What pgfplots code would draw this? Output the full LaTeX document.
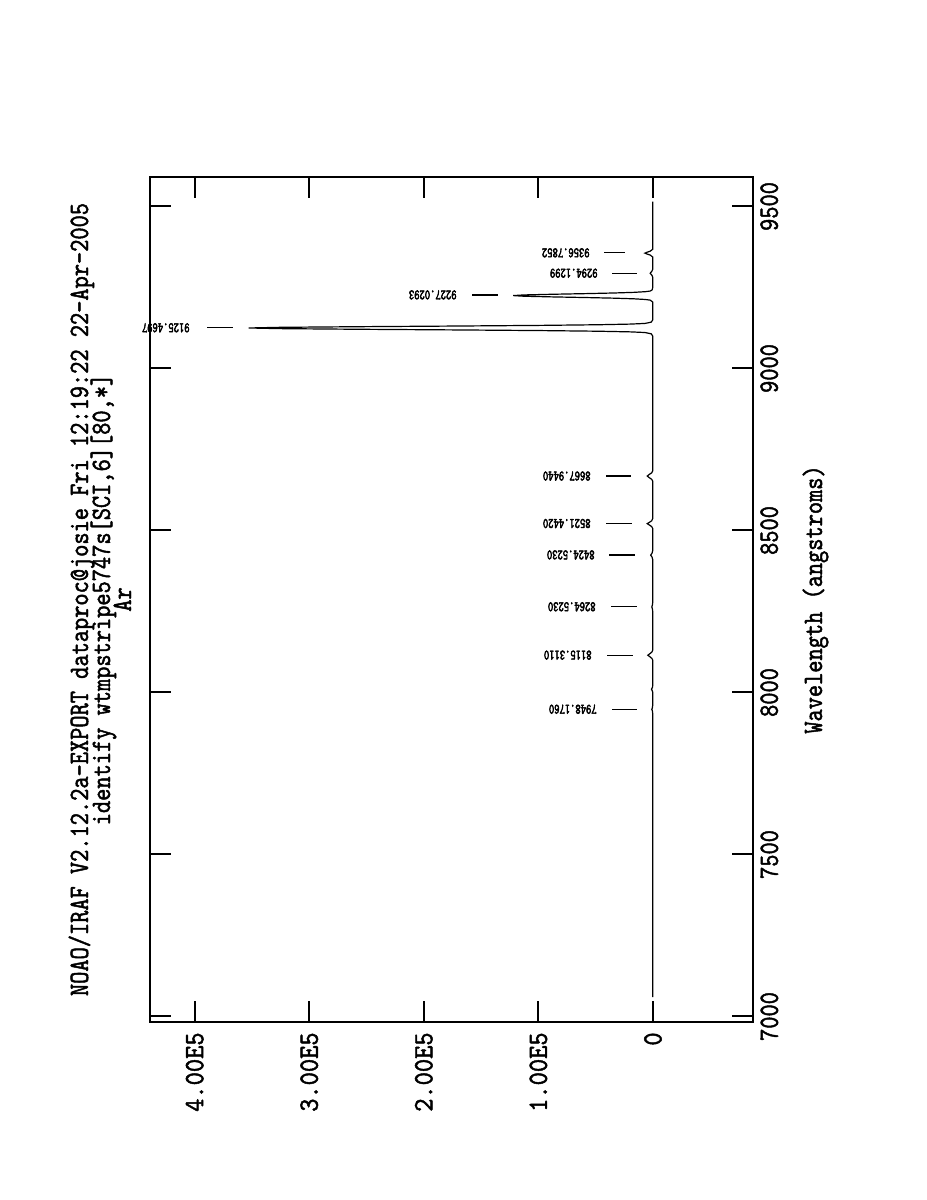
\documentclass[border=0pt]{standalone}
\usepackage{fontspec}
\usepackage{pgfplots}
\usepackage{pgfplotstable}
\pgfplotsset{compat=1.18}
\newfontfamily\iraf{lmmono10-regular.otf}[FakeStretch=0.83,FakeBold=1.6]
\newfontfamily\irafw{lmmono10-regular.otf}[FakeStretch=0.9,FakeBold=1.6]
\newfontfamily\irafs{lmmono10-regular.otf}[FakeStretch=0.7,FakeBold=3]
\newcommand\bigf{\iraf\fontsize{14}{16}\selectfont}
\newcommand\tickf{\irafw\fontsize{14}{16}\selectfont}
\newcommand\smallf{\irafs\fontsize{7.2}{8}\selectfont}

\pgfplotstableread{
w I
7060 200
7500 200
7900 200
7935 200
7943 500
7948 1000
7953 500
7961 200
8000 200
8004 400
8010 1300
8016 400
8022 200
8100 200
8105 900
8110 2600
8115 4500
8120 2600
8125 900
8131 200
8250 200
8258 500
8264 1000
8270 500
8278 200
8410 200
8418 800
8424 2000
8430 800
8438 200
8506 200
8512 1100
8517 3200
8521 5000
8525 3200
8530 1100
8537 200
8652 200
8658 1100
8663 3200
8668 5000
8673 3200
8678 1100
8684 200
9100 200
9107 1500
9111 7000
9113 19800
9115 47800
9117 98100
9119 171800
9121 256300
9123 325900
9125 353000
9127 325900
9129 256300
9131 171800
9133 98100
9135 47800
9137 19800
9139 7000
9143 1500
9150 200
9205 200
9211 2400
9213 6800
9215 16500
9217 33900
9219 59400
9221 88600
9223 112600
9225 122000
9227 112600
9229 88600
9231 59400
9233 33900
9235 16500
9237 6800
9239 2400
9243 600
9250 200
9282 200
9288 1000
9294 2400
9300 1000
9306 200
9344 200
9350 2400
9353 5000
9356 7000
9359 5000
9362 2400
9368 200
9515 200
}\spectrum

\begin{document}
\begin{tikzpicture}
\begin{axis}[
  scale only axis,
  width=301.5pt, height=422.5pt,
  x dir=reverse,
  xmin=-87300, xmax=439000,
  ymin=6983, ymax=9591,
  axis line style={line width=1pt},
  tick align=inside,
  major tick length=10.5pt,
  every tick/.style={black, line width=1pt},
  xtick={0,100000,200000,300000,400000},
  xticklabels={0,1.00E5,2.00E5,3.00E5,4.00E5},
  ytick={7000,7500,8000,8500,9000,9500},
  yticklabels={7000,7500,8000,8500,9000,9500},
  scaled x ticks=false,
  xticklabel style={font=\tickf, rotate=90, anchor=east, inner sep=0pt},
  xticklabel shift=5pt,
  yticklabel pos=right,
  yticklabel style={font=\bigf, rotate=90, anchor=north, inner sep=0pt},
  yticklabel shift=3.5pt,
  xtick pos=both, ytick pos=both,
  clip=false,
]
\addplot[black, line width=0.6pt] table[x=I, y=w] {\spectrum};
% line identifications
\addplot[black, line width=0.6pt] coordinates {(13965,7948.176) (35785,7948.176)};
\addplot[black, line width=0.6pt] coordinates {(17456,8115.311) (40149,8115.311)};
\addplot[black, line width=0.6pt] coordinates {(13965,8264.523) (36658,8264.523)};
\addplot[black, line width=0.6pt] coordinates {(15710,8424.523) (38403,8424.523)};
\addplot[black, line width=0.6pt] coordinates {(18329,8521.442) (41022,8521.442)};
\addplot[black, line width=0.6pt] coordinates {(19202,8667.944) (41022,8667.944)};
\addplot[black, line width=0.6pt] coordinates {(366576,9125.4697) (389269,9125.4697)};
\addplot[black, line width=0.6pt] coordinates {(135284,9227.0293) (157977,9227.0293)};
\addplot[black, line width=0.6pt] coordinates {(13965,9294.1299) (35785,9294.1299)};
\addplot[black, line width=0.6pt] coordinates {(24438,9356.7852) (42767,9356.7852)};
\node[font=\smallf, rotate=180, anchor=west, inner sep=0pt] at (axis cs:48877,7948.176) {7948.1760};
\node[font=\smallf, rotate=180, anchor=west, inner sep=0pt] at (axis cs:53241,8115.311) {8115.3110};
\node[font=\smallf, rotate=180, anchor=west, inner sep=0pt] at (axis cs:49750,8264.523) {8264.5230};
\node[font=\smallf, rotate=180, anchor=west, inner sep=0pt] at (axis cs:50622,8424.523) {8424.5230};
\node[font=\smallf, rotate=180, anchor=west, inner sep=0pt] at (axis cs:54114,8521.442) {8521.4420};
\node[font=\smallf, rotate=180, anchor=west, inner sep=0pt] at (axis cs:54114,8667.944) {8667.9440};
\node[font=\smallf, rotate=180, anchor=west, inner sep=0pt] at (axis cs:404106,9125.4697) {9125.4697};
\node[font=\smallf, rotate=180, anchor=west, inner sep=0pt] at (axis cs:171069,9227.0293) {9227.0293};
\node[font=\smallf, rotate=180, anchor=west, inner sep=0pt] at (axis cs:48004,9294.1299) {9294.1299};
\node[font=\smallf, rotate=180, anchor=west, inner sep=0pt] at (axis cs:54986,9356.7852) {9356.7852};
\end{axis}
\node[font=\bigf, rotate=90, anchor=base] at ([xshift=-31pt]current axis.west) {NOAO/IRAF V2.12.2a-EXPORT dataproc@josie Fri 12:19:22 22-Apr-2005};
\node[font=\bigf, rotate=90, anchor=base] at ([xshift=-20pt]current axis.west) {identify wtmpstripe5747s[SCI,6][80,*]};
\node[font=\bigf, rotate=90, anchor=base] at ([xshift=-9.5pt]current axis.west) {Ar};
\node[font=\bigf, rotate=90, anchor=base] at ([xshift=34.5pt]current axis.east) {Wavelength (angstroms)};
\pgfresetboundingbox
\path[use as bounding box] ([shift={(-75pt,-89pt)}]current axis.south west) rectangle ([shift={(87pt,88.5pt)}]current axis.north east);
\end{tikzpicture}
\end{document}
